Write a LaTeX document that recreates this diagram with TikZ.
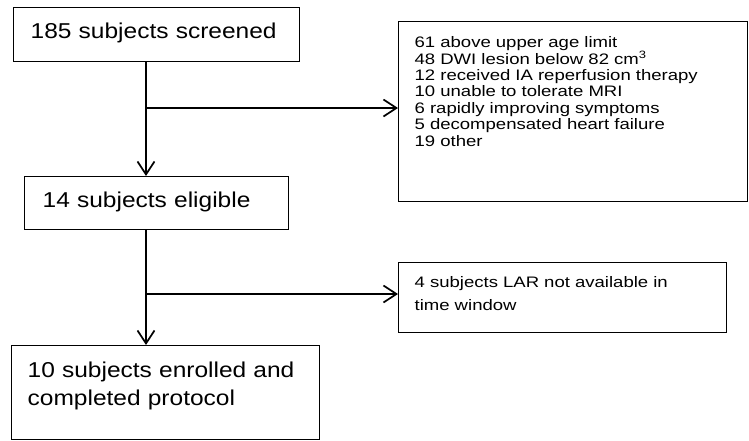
\documentclass[tikz,border=0pt]{standalone}
\usepackage{fontspec}
\setmainfont{Liberation Sans}
\newfontfamily\stagefamily[FakeStretch=1.14]{Liberation Sans}
\newfontfamily\exclfamily[FakeStretch=1.22]{Liberation Sans}
\usetikzlibrary{arrows.meta}
\newcommand{\stagefont}{\stagefamily\fontsize{21.5}{28}\selectfont\lineskiplimit=-20pt\relax}
\newcommand{\exclfont}{\exclfamily\fontsize{15.2}{16.4}\selectfont\lineskiplimit=-20pt\relax}
\newcommand{\larfont}{\exclfamily\fontsize{15.2}{22.7}\selectfont\lineskiplimit=-20pt\relax}
\tikzset{>={Straight Barb[length=13pt,width=17pt]}}
\tikzset{
  stageNode/.style={shape=rectangle,draw=black,line width=1.3pt,anchor=north west,align=left,inner ysep=0pt,font=\stagefont},
  exclNode/.style={shape=rectangle,draw=black,line width=1.3pt,anchor=north west,align=left,inner ysep=0pt,inner xsep=16pt,font=\exclfont},
  flowLink/.style={draw=black,->,line width=1.7pt}
}

\begin{document}
\begin{tikzpicture}[x=1pt,y=-1pt]
        \useasboundingbox (0,0) rectangle (749,440);

        \node[inner xsep=17pt, text width=252pt, text height=31pt, text depth=23pt] (screened) [stageNode] at (13,7) {185 subjects screened};
        \node[inner xsep=18pt, text width=228pt, text height=31pt, text depth=22pt] (eligible) [stageNode] at (24,176) {14 subjects eligible};
        \node[inner xsep=16pt, text width=276pt, text height=32pt, text depth=62pt] (enrolled) [stageNode] at (11,345) {10 subjects enrolled and\\completed protocol};

        \node[text width=317pt, text height=26pt, text depth=154pt] (excluded) [exclNode] at (398,21) {61 above upper age limit\\48 DWI lesion below 82 cm\textsuperscript{3}\\12 received IA reperfusion therapy\\10 unable to tolerate MRI\\6 rapidly improving symptoms\\5 decompensated heart failure\\19 other};
        \node[text width=296pt, text height=25pt, text depth=45pt] (noLAR) [exclNode, font=\larfont] at (398,262) {4 subjects LAR not available in\\time window};

        \coordinate (split1) at (146,108);
        \coordinate (split2) at (146,294);

         \path
    (split1 |- screened.south) edge [flowLink] (split1 |- eligible.north)
    (split1) edge [flowLink] (split1 -| excluded.west)
    (split2 |- eligible.south) edge [flowLink] (split2 |- enrolled.north)
    (split2) edge [flowLink] (split2 -| noLAR.west);

\end{tikzpicture}
\end{document}
